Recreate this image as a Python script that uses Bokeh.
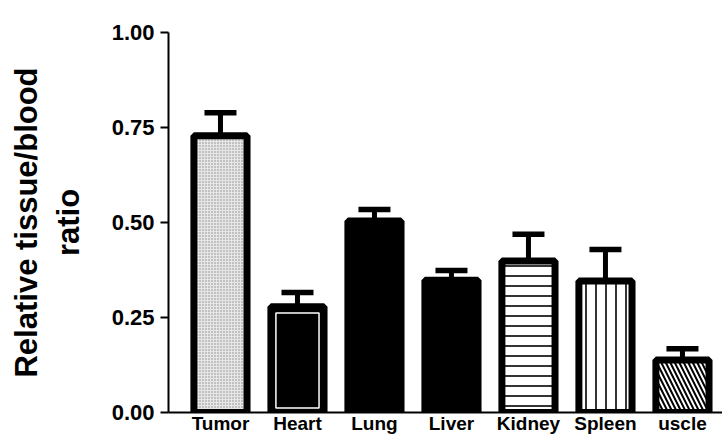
from bokeh.plotting import figure
from bokeh.models import Range1d, FixedTicker
from bokeh.embed import file_html
from bokeh.resources import INLINE

categories = ["Tumor", "Heart", "Lung", "Liver", "Kidney", "Spleen", "uscle"]
values = [0.728, 0.278, 0.504, 0.348, 0.399, 0.346, 0.138]
upper = [0.789, 0.316, 0.534, 0.374, 0.469, 0.429, 0.168]
y_ticks = [0.0, 0.25, 0.5, 0.75, 1.0]
y_tick_labels = ["0.00", "0.25", "0.50", "0.75", "1.00"]

styles = [
    dict(fill_color="#e6e6e6", hatch_pattern=".", hatch_color="#8a8a8a", hatch_scale=3, hatch_weight=1),
    dict(fill_color="black"),
    dict(fill_color="black"),
    dict(fill_color="black"),
    dict(fill_color="white", hatch_pattern="-", hatch_color="black", hatch_scale=10, hatch_weight=1.6),
    dict(fill_color="white", hatch_pattern="|", hatch_color="black", hatch_scale=10, hatch_weight=1.6),
    dict(fill_color="white", hatch_pattern="\\", hatch_color="black", hatch_scale=9, hatch_weight=2),
]

FONT = "Liberation Sans"

p = figure(width=722, height=436, output_backend="svg", toolbar_location=None,
           x_range=Range1d(-0.675, 6.52), y_range=Range1d(0, 1.0),
           min_border_left=168, min_border_right=0, min_border_top=32, min_border_bottom=0)
p.outline_line_color = None
p.grid.visible = False
p.background_fill_color = "white"

xs = list(range(len(categories)))
for i in xs:
    p.vbar(x=[xs[i]], top=[values[i]], bottom=0, width=0.69,
           line_color="black", line_width=7, **styles[i])

# Heart: inner white gap
p.vbar(x=[xs[1]], top=[values[1] - 0.016], bottom=0.012, width=0.56,
       fill_color=None, line_color="white", line_width=1.5)

# error bars (upper only)
p.segment(x0=xs, y0=values, x1=xs, y1=upper, line_color="black", line_width=5)
p.scatter(x=xs, y=upper, marker="dash", size=32, line_color="black", line_width=5.5)

# y axis
p.yaxis.ticker = FixedTicker(ticks=y_ticks)
p.yaxis.major_label_overrides = {t: l for t, l in zip(y_ticks, y_tick_labels)}
p.yaxis.minor_tick_line_color = None
p.yaxis.major_tick_out = 8
p.yaxis.major_tick_in = 0
p.yaxis.major_tick_line_width = 2
p.yaxis.axis_line_width = 2
p.yaxis.major_label_text_font = FONT
p.yaxis.major_label_text_font_style = "bold"
p.yaxis.major_label_text_font_size = "22px"
p.yaxis.major_label_text_color = "black"
p.yaxis.major_label_standoff = 6
p.yaxis.axis_label = "Relative tissue/blood\nratio"
p.yaxis.axis_label_text_font = FONT
p.yaxis.axis_label_text_font_style = "bold"
p.yaxis.axis_label_text_font_size = "31px"
p.yaxis.axis_label_text_color = "black"
p.yaxis.axis_label_standoff = 23

# x axis
p.xaxis.ticker = FixedTicker(ticks=xs)
p.xaxis.major_label_overrides = {x: c for x, c in zip(xs, categories)}
p.xaxis.minor_tick_line_color = None
p.xaxis.major_tick_line_color = None
p.xaxis.major_tick_out = 0
p.xaxis.major_tick_in = 0
p.xaxis.axis_line_width = 2
p.xaxis.major_label_text_font = FONT
p.xaxis.major_label_text_font_style = "bold"
p.xaxis.major_label_text_font_size = "19px"
p.xaxis.major_label_text_color = "black"
p.xaxis.major_label_standoff = 0

open("out.html", "w").write(file_html(p, INLINE))
